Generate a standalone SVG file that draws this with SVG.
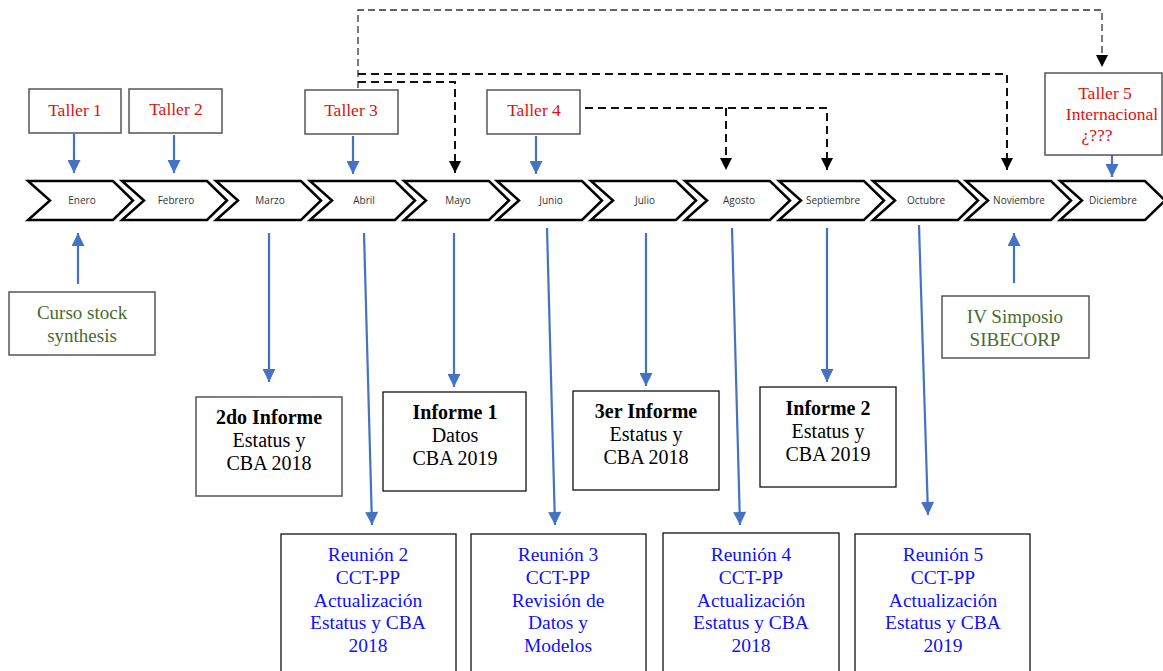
<svg xmlns="http://www.w3.org/2000/svg" width="1163" height="671" viewBox="0 0 1163 671">
<style>
.chev{fill:#fff;stroke:#000;stroke-width:2.5;stroke-linejoin:miter}
.mon{font-family:"Open Sans","Liberation Sans",sans-serif;font-size:10px;fill:#333;text-anchor:middle}
.box{fill:#fff;stroke:#555;stroke-width:1.5}
.boxk{fill:#fff;stroke:#111;stroke-width:1.3}
.t{font-family:"Liberation Serif","Times New Roman",serif;text-anchor:middle}
.red{fill:#e01010;font-size:17.5px}
.grn{fill:#4a6b2e;font-size:19px}
.blk{fill:#000;font-size:20px}
.blu{fill:#1010ff;font-size:19.5px}
.ba{stroke:#4472c4;stroke-width:2.2;fill:none;marker-end:url(#ab)}
.da{stroke:#111;stroke-width:2;fill:none;stroke-dasharray:8 5}
.dt{stroke:#333;stroke-width:1.3;fill:none;stroke-dasharray:7 4}
</style>
<defs>
<marker id="ab" viewBox="0 0 10 10" refX="10" refY="5" markerUnits="userSpaceOnUse" markerWidth="14" markerHeight="13" orient="auto"><path d="M0,0 L10,5 L0,10 Z" fill="#4472c4"/></marker>
<marker id="ak" viewBox="0 0 10 10" refX="10" refY="5" markerUnits="userSpaceOnUse" markerWidth="12" markerHeight="13" orient="auto"><path d="M0,0 L10,5 L0,10 Z" fill="#000"/></marker>
<path id="chv" d="M0,0 H85 L105,19.5 L85,39 H0 L22,19.5 Z"/>
</defs>

<g id="timeline">
<use href="#chv" class="chev" x="28" y="181"/>
<use href="#chv" class="chev" x="122" y="181"/>
<use href="#chv" class="chev" x="216" y="181"/>
<use href="#chv" class="chev" x="310" y="181"/>
<use href="#chv" class="chev" x="404" y="181"/>
<use href="#chv" class="chev" x="497" y="181"/>
<use href="#chv" class="chev" x="591" y="181"/>
<use href="#chv" class="chev" x="685" y="181"/>
<use href="#chv" class="chev" x="779" y="181"/>
<use href="#chv" class="chev" x="873" y="181"/>
<use href="#chv" class="chev" x="966" y="181"/>
<use href="#chv" class="chev" x="1060" y="181"/>
<text class="mon" x="82" y="204">Enero</text>
<text class="mon" x="176" y="204">Febrero</text>
<text class="mon" x="270" y="204">Marzo</text>
<text class="mon" x="364" y="204">Abril</text>
<text class="mon" x="458" y="204">Mayo</text>
<text class="mon" x="551" y="204">Junio</text>
<text class="mon" x="645" y="204">Julio</text>
<text class="mon" x="739" y="204">Agosto</text>
<text class="mon" x="833" y="204">Septiembre</text>
<text class="mon" x="926" y="204">Octubre</text>
<text class="mon" x="1019" y="204">Noviembre</text>
<text class="mon" x="1113" y="204">Diciembre</text>
</g>

<g id="connectors">
<path class="dt" d="M358,88 V10 H1102 V67" marker-end="url(#ak)"/>
<path class="da" d="M358,74 H1007 V170" marker-end="url(#ak)"/>
<path class="da" d="M358,82 H455 V173" marker-end="url(#ak)"/>
<path class="da" d="M585,108 H827 V170" marker-end="url(#ak)"/>
<path class="da" d="M726,108 V170" marker-end="url(#ak)"/>
<path class="ba" d="M74,134 V173"/>
<path class="ba" d="M174,135 V173"/>
<path class="ba" d="M353,136 V174"/>
<path class="ba" d="M536,136 V174"/>
<path class="ba" d="M1112,130 V177"/>
<path class="ba" d="M78,284 V233"/>
<path class="ba" d="M1014,283 V233"/>
<path class="ba" d="M269,233 V382"/>
<path class="ba" d="M364,233 L372,525"/>
<path class="ba" d="M454,233 V387"/>
<path class="ba" d="M547,228 L555,525"/>
<path class="ba" d="M646,233 V386"/>
<path class="ba" d="M732,228 L740,525"/>
<path class="ba" d="M827,228 V382"/>
<path class="ba" d="M919,225 L928,515"/>
</g>

<g id="taller1"><rect class="box" x="29" y="89" width="92" height="44"/><text class="t red" x="75" y="116">Taller 1</text></g>
<g id="taller2"><rect class="box" x="129" y="89" width="93" height="44"/><text class="t red" x="176" y="115">Taller 2</text></g>
<g id="taller3"><rect class="box" x="305" y="90" width="93" height="44"/><text class="t red" x="351" y="116">Taller 3</text></g>
<g id="taller4"><rect class="box" x="487" y="90" width="93" height="44"/><text class="t red" x="534" y="116">Taller 4</text></g>
<g id="taller5"><rect class="box" x="1045" y="73" width="117" height="82"/>
<text class="t red" x="1105" y="99">Taller 5</text>
<text class="t red" x="1112" y="120">Internacional</text>
<text class="t red" x="1097" y="141">¿???</text></g>

<g id="curso"><rect class="box" x="9" y="292" width="146" height="63"/>
<text class="t grn" x="82" y="319">Curso stock</text>
<text class="t grn" x="82" y="342">synthesis</text></g>
<g id="simposio"><rect class="box" x="942" y="296" width="147" height="62"/>
<text class="t grn" x="1015" y="323">IV Simposio</text>
<text class="t grn" x="1015" y="346">SIBECORP</text></g>

<g id="informe2do"><rect class="box" x="196" y="397" width="146" height="99"/>
<text class="t blk" x="269" y="424" font-weight="bold">2do Informe</text>
<text class="t blk" x="269" y="447">Estatus y</text>
<text class="t blk" x="269" y="470">CBA 2018</text></g>
<g id="informe1"><rect class="boxk" x="383" y="392" width="143" height="99"/>
<text class="t blk" x="455" y="419" font-weight="bold">Informe 1</text>
<text class="t blk" x="455" y="442">Datos</text>
<text class="t blk" x="455" y="465">CBA 2019</text></g>
<g id="informe3er"><rect class="boxk" x="573" y="391" width="146" height="99"/>
<text class="t blk" x="646" y="418" font-weight="bold">3er Informe</text>
<text class="t blk" x="646" y="441">Estatus y</text>
<text class="t blk" x="646" y="464">CBA 2018</text></g>
<g id="informe2"><rect class="boxk" x="760" y="387" width="136" height="100"/>
<text class="t blk" x="828" y="415" font-weight="bold">Informe 2</text>
<text class="t blk" x="828" y="438">Estatus y</text>
<text class="t blk" x="828" y="461">CBA 2019</text></g>

<g id="reunion2"><rect class="boxk" x="281" y="534" width="175" height="145"/>
<text class="t blu" x="368" y="561">Reunión 2</text>
<text class="t blu" x="368" y="584">CCT-PP</text>
<text class="t blu" x="368" y="607">Actualización</text>
<text class="t blu" x="368" y="629">Estatus y CBA</text>
<text class="t blu" x="368" y="652">2018</text></g>
<g id="reunion3"><rect class="boxk" x="471" y="534" width="175" height="145"/>
<text class="t blu" x="558" y="561">Reunión 3</text>
<text class="t blu" x="558" y="584">CCT-PP</text>
<text class="t blu" x="558" y="607">Revisión de</text>
<text class="t blu" x="558" y="629">Datos y</text>
<text class="t blu" x="558" y="652">Modelos</text></g>
<g id="reunion4"><rect class="boxk" x="663" y="533" width="176" height="146"/>
<text class="t blu" x="751" y="561">Reunión 4</text>
<text class="t blu" x="751" y="584">CCT-PP</text>
<text class="t blu" x="751" y="607">Actualización</text>
<text class="t blu" x="751" y="629">Estatus y CBA</text>
<text class="t blu" x="751" y="652">2018</text></g>
<g id="reunion5"><rect class="boxk" x="855" y="534" width="175" height="145"/>
<text class="t blu" x="943" y="561">Reunión 5</text>
<text class="t blu" x="943" y="584">CCT-PP</text>
<text class="t blu" x="943" y="607">Actualización</text>
<text class="t blu" x="943" y="629">Estatus y CBA</text>
<text class="t blu" x="943" y="652">2019</text></g>
</svg>
